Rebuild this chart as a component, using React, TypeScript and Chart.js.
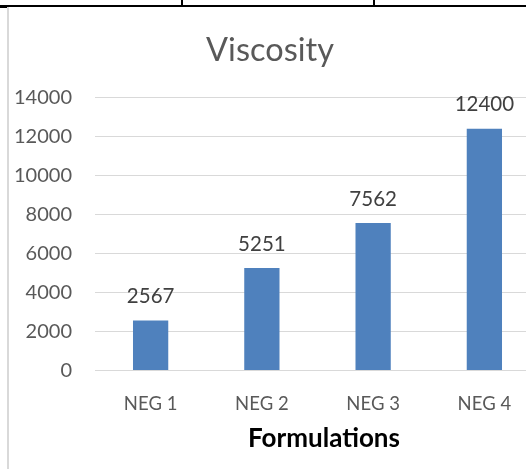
import React, { useEffect, useRef } from "react";
import { Chart, registerables } from "chart.js";

Chart.register(...registerables);

const categories = ["NEG 1", "NEG 2", "NEG 3", "NEG 4"];
const viscosity = [2567, 5251, 7562, 12400];
const yTicks = [0, 2000, 4000, 6000, 8000, 10000, 12000, 14000];
const chartTitle = "Viscosity";
const xTitle = "Formulations";

const FONT = "Lato, 'Open Sans', sans-serif";

const labelPlugin = {
  id: "valueLabels",
  afterDatasetsDraw(chart: any) {
    const ctx = chart.ctx;
    const meta = chart.getDatasetMeta(0);
    ctx.save();
    ctx.font = `20.5px ${FONT}`;
    ctx.fillStyle = "#404040";
    ctx.textAlign = "center";
    ctx.textBaseline = "alphabetic";
    meta.data.forEach((bar: any, i: number) => {
      ctx.fillText(String(viscosity[i]), bar.x, bar.y - 17.5);
    });
    ctx.font = `bold 26px ${FONT}`;
    ctx.fillStyle = "#000000";
    ctx.textBaseline = "middle";
    ctx.fillText(xTitle, 324, 439);
    ctx.restore();
  },
};

export default function App() {
  const ref = useRef<HTMLCanvasElement>(null);
  useEffect(() => {
    if (!ref.current) return;
    const chart = new Chart(ref.current, {
      type: "bar",
      data: {
        labels: categories,
        datasets: [
          {
            data: viscosity,
            backgroundColor: "#4F81BD",
            borderWidth: 0,
            barPercentage: 1,
            categoryPercentage: 0.317,
          },
        ],
      },
      options: {
        animation: false,
        responsive: false,
        maintainAspectRatio: false,
        layout: { padding: 0 },
        plugins: {
          legend: { display: false },
          tooltip: { enabled: false },
          title: {
            display: true,
            text: chartTitle,
            color: "#595959",
            font: { family: FONT, size: 32.5, weight: "normal" as any, lineHeight: 1.2 },
            padding: { top: 31, bottom: 27.5 },
          },
        },
        scales: {
          x: {
            grid: { display: false, drawTicks: false },
            border: { display: true, color: "#d9d9d9", width: 1 },
            ticks: {
              color: "#595959",
              font: { family: FONT, size: 18.5 },
              padding: 22,
            },
            afterFit: (s: any) => {
              s.height = 98.5;
            },
          },
          y: {
            min: 0,
            max: 14000,
            afterBuildTicks: (s: any) => {
              s.ticks = yTicks.map((v) => ({ value: v }));
            },
            grid: { color: "#d9d9d9", drawTicks: false, lineWidth: 1 },
            border: { display: false },
            ticks: {
              color: "#595959",
              font: { family: FONT, size: 20 },
              padding: 23,
              callback: (v: any) => String(v),
            },
            afterFit: (s: any) => {
              s.width = 95;
            },
          },
        },
      },
      plugins: [labelPlugin],
    });
    return () => chart.destroy();
  }, []);

  return (
    <div
      style={{
        position: "absolute",
        left: 0,
        top: 0,
        width: 526,
        height: 469,
        overflow: "hidden",
        background: "#ffffff",
      }}
    >
      <canvas
        ref={ref}
        width={540}
        height={469}
        style={{ position: "absolute", left: 0, top: 0, width: 540, height: 469 }}
      />
      <div style={{ position: "absolute", left: 0, top: 5, width: 526, height: 2, background: "#000" }} />
      <div style={{ position: "absolute", left: 181, top: 0, width: 2, height: 7, background: "#000" }} />
      <div style={{ position: "absolute", left: 373, top: 0, width: 2, height: 7, background: "#000" }} />
      <div style={{ position: "absolute", left: 0, top: 7, width: 7, height: 1, background: "#000" }} />
      <div style={{ position: "absolute", left: 7, top: 7, width: 2, height: 462, background: "#d9d9d9" }} />
    </div>
  );
}
